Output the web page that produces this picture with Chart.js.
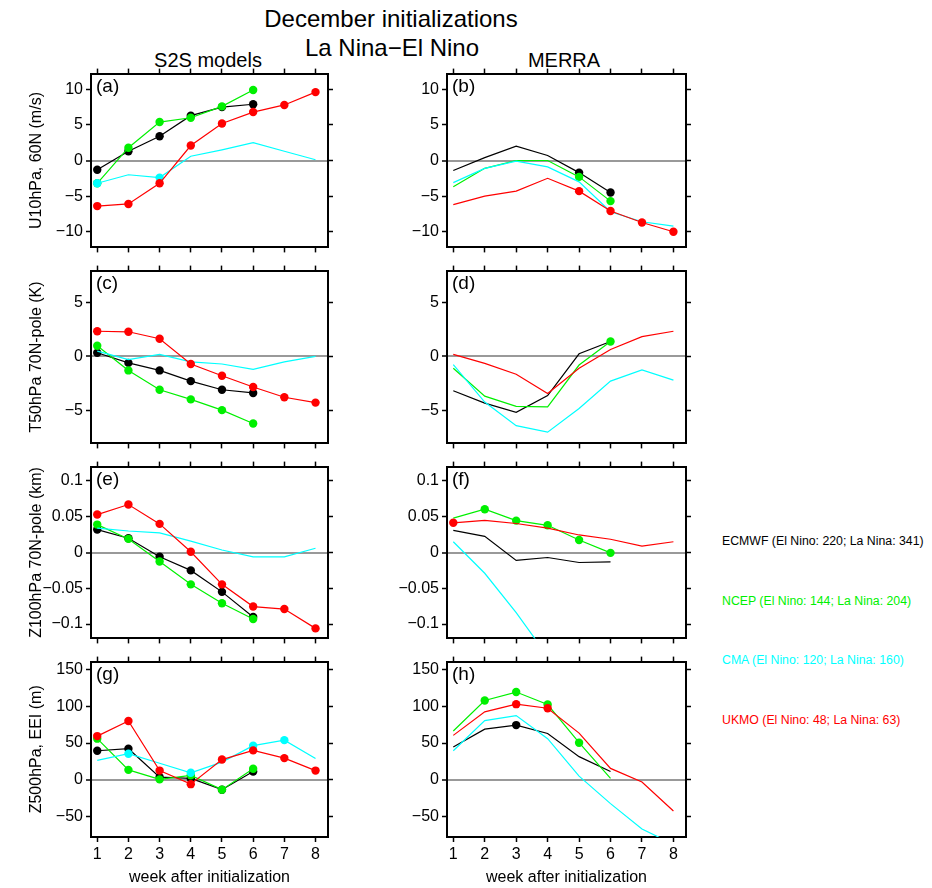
<!DOCTYPE html>
<html><head><meta charset="utf-8">
<script src="https://cdn.jsdelivr.net/npm/chart.js@4/dist/chart.umd.min.js"></script>
<style>
body{margin:0;background:#fff;width:932px;height:888px;position:relative;overflow:hidden;font-family:"Liberation Sans",Arial,Helvetica,sans-serif}
.t{position:absolute;white-space:nowrap;transform:translate(-50%,-50%);color:#000}
.l{position:absolute;white-space:nowrap;transform:translateY(-50%);font-size:12.3px}
.p{position:absolute;white-space:nowrap;transform:translateY(-50%);font-size:19px;color:#000;z-index:5}
canvas{position:absolute}
</style></head><body>
<div class="t" style="left:391px;top:19px;font-size:24px">December initializations</div>
<div class="t" style="left:392px;top:48px;font-size:24px">La Nina−El Nino</div>
<div class="t" style="left:208px;top:60px;font-size:20px">S2S models</div>
<div class="t" style="left:564px;top:60px;font-size:20px">MERRA</div>
<script>
// ---------------- data ----------------
const weeks = [1, 2, 3, 4, 5, 6, 7, 8];
const modelNames = ['ECMWF', 'NCEP', 'CMA', 'UKMO'];
const legendTexts = [
  'ECMWF (El Nino: 220; La Nina: 341)',
  'NCEP (El Nino: 144; La Nina: 204)',
  'CMA (El Nino: 120; La Nina: 160)',
  'UKMO (El Nino: 48; La Nina: 63)'
];
const panelLetters = ['(a)', '(b)', '(c)', '(d)', '(e)', '(f)', '(g)', '(h)'];
const yTitles = ['U10hPa, 60N (m/s)', 'T50hPa 70N-pole (K)', 'Z100hPa 70N-pole (km)', 'Z500hPa, EEI (m)'];
const xTitle = 'week after initialization';

const ticksU10 = [-10, -5, 0, 5, 10];
const ticksT50 = [-5, 0, 5];
const ticksZ100 = [-0.1, -0.05, 0, 0.05, 0.1];
const ticksZ500 = [-50, 0, 50, 100, 150];

// (a) U10hPa S2S
const a_ECMWF = [-1.3, 1.3, 3.4, 6.3, 7.5, 7.9];
const a_NCEP  = [-3.2, 1.8, 5.4, 6.0, 7.6, 9.9];
const a_CMA   = [-3.2, -2.0, -2.4, 0.6, 1.5, 2.5, 1.3, 0.1];
const a_UKMO  = [-6.4, -6.1, -3.2, 2.1, 5.2, 6.8, 7.8, 9.6];
const a_sigECMWF = [1, 2, 3, 4, 5, 6];
const a_sigNCEP  = [1, 2, 3, 4, 5, 6];
const a_sigCMA   = [1, 3];
const a_sigUKMO  = [1, 2, 3, 4, 5, 6, 7, 8];

// (b) U10hPa MERRA
const b_ECMWF = [-1.4, 0.4, 2.0, 0.7, -1.7, -4.5];
const b_NCEP  = [-3.7, -1.1, 0.0, 0.0, -2.3, -5.7];
const b_CMA   = [-3.1, -1.1, -0.1, -0.9, -3.0, -7.2, -8.6, -9.2];
const b_UKMO  = [-6.2, -5.0, -4.3, -2.5, -4.3, -7.1, -8.7, -10.0];
const b_sigECMWF = [5, 6];
const b_sigNCEP  = [5, 6];
const b_sigCMA   = [];
const b_sigUKMO  = [5, 6, 7, 8];

// (c) T50hPa S2S
const c_ECMWF = [0.35, -0.6, -1.3, -2.3, -3.1, -3.4];
const c_NCEP  = [1.0, -1.3, -3.1, -4.0, -5.0, -6.25];
const c_CMA   = [0.5, -0.3, 0.2, -0.5, -0.7, -1.2, -0.5, 0.0];
const c_UKMO  = [2.35, 2.3, 1.65, -0.7, -1.8, -2.85, -3.8, -4.3];
const c_sigECMWF = [1, 2, 3, 4, 5, 6];
const c_sigNCEP  = [1, 2, 3, 4, 5, 6];
const c_sigCMA   = [];
const c_sigUKMO  = [1, 2, 3, 4, 5, 6, 7, 8];

// (d) T50hPa MERRA
const d_ECMWF = [-3.2, -4.35, -5.2, -3.65, 0.25, 1.4];
const d_NCEP  = [-1.1, -3.7, -4.65, -4.7, -0.8, 1.4];
const d_CMA   = [-0.75, -4.25, -6.45, -7.05, -4.85, -2.3, -1.25, -2.2];
const d_UKMO  = [0.2, -0.65, -1.65, -3.45, -1.1, 0.65, 1.85, 2.35];
const d_sigECMWF = [];
const d_sigNCEP  = [6];
const d_sigCMA   = [];
const d_sigUKMO  = [];

// (e) Z100hPa S2S
const e_ECMWF = [0.032, 0.020, -0.006, -0.025, -0.055, -0.090];
const e_NCEP  = [0.039, 0.019, -0.0125, -0.0445, -0.071, -0.093];
const e_CMA   = [0.034, 0.030, 0.0275, 0.016, 0.0035, -0.006, -0.006, 0.006];
const e_UKMO  = [0.053, 0.067, 0.040, 0.001, -0.0445, -0.0755, -0.079, -0.106];
const e_sigECMWF = [1, 2, 3, 4, 5, 6];
const e_sigNCEP  = [1, 2, 3, 4, 5, 6];
const e_sigCMA   = [];
const e_sigUKMO  = [1, 2, 3, 4, 5, 6, 7, 8];

// (f) Z100hPa MERRA
const f_ECMWF = [0.031, 0.0225, -0.011, -0.007, -0.014, -0.013];
const f_NCEP  = [0.048, 0.0605, 0.0445, 0.038, 0.0175, -0.0005];
const f_CMA   = [0.015, -0.029, -0.084, -0.145];
const f_UKMO  = [0.0415, 0.045, 0.0405, 0.034, 0.0245, 0.0185, 0.009, 0.015];
const f_sigECMWF = [];
const f_sigNCEP  = [2, 3, 4, 5, 6];
const f_sigCMA   = [];
const f_sigUKMO  = [1];

// (g) Z500hPa S2S
const g_ECMWF = [39.5, 42.3, 3.6, 1.8, -13.5, 11.3];
const g_NCEP  = [56, 13.5, 0.5, 6, -13.5, 15];
const g_CMA   = [26.5, 35.5, 22.5, 9.5, 24, 46.5, 54, 29];
const g_UKMO  = [59.5, 80, 12.5, -6, 27.5, 40, 29.5, 12.5];
const g_sigECMWF = [1, 2, 3, 4, 5, 6];
const g_sigNCEP  = [1, 2, 3, 4, 5, 6];
const g_sigCMA   = [2, 4, 6, 7];
const g_sigUKMO  = [1, 2, 3, 4, 5, 6, 7, 8];

// (h) Z500hPa MERRA
const h_ECMWF = [44.5, 69, 74.5, 63, 31.5, 11.3];
const h_NCEP  = [66.5, 108, 119.5, 102.5, 50.5, 2];
const h_CMA   = [39.5, 80.5, 87.5, 56, 5, -32.5, -67, -88];
const h_UKMO  = [60.5, 92.5, 103, 97.5, 63.5, 15.5, -3, -42.5];
const h_sigECMWF = [3];
const h_sigNCEP  = [2, 3, 4, 5];
const h_sigCMA   = [];
const h_sigUKMO  = [3, 4];

// ---------------- layout / style ----------------
const COLORS = {ECMWF: '#000000', NCEP: '#00f000', CMA: '#00ffff', UKMO: '#ff0000'};
const FONT = '"Liberation Sans", Arial, Helvetica, sans-serif';
const colGeom = [{left: 0, width: 340, yl: 91, yr: 12}, {left: 360, width: 340, yl: 87, yr: 14}];
const rowTop = [71, 268, 464, 659];
const rowBottom = [250, 446, 641, 837];
const yRanges = [[-12.2, 12.2], [-8.1, 8.0], [-0.12, 0.12], [-78, 161]];
const yTickSets = [ticksU10, ticksT50, ticksZ100, ticksZ500];

const panels = [
  {s: [a_ECMWF, a_NCEP, a_CMA, a_UKMO], g: [a_sigECMWF, a_sigNCEP, a_sigCMA, a_sigUKMO]},
  {s: [b_ECMWF, b_NCEP, b_CMA, b_UKMO], g: [b_sigECMWF, b_sigNCEP, b_sigCMA, b_sigUKMO]},
  {s: [c_ECMWF, c_NCEP, c_CMA, c_UKMO], g: [c_sigECMWF, c_sigNCEP, c_sigCMA, c_sigUKMO]},
  {s: [d_ECMWF, d_NCEP, d_CMA, d_UKMO], g: [d_sigECMWF, d_sigNCEP, d_sigCMA, d_sigUKMO]},
  {s: [e_ECMWF, e_NCEP, e_CMA, e_UKMO], g: [e_sigECMWF, e_sigNCEP, e_sigCMA, e_sigUKMO]},
  {s: [f_ECMWF, f_NCEP, f_CMA, f_UKMO], g: [f_sigECMWF, f_sigNCEP, f_sigCMA, f_sigUKMO]},
  {s: [g_ECMWF, g_NCEP, g_CMA, g_UKMO], g: [g_sigECMWF, g_sigNCEP, g_sigCMA, g_sigUKMO]},
  {s: [h_ECMWF, h_NCEP, h_CMA, h_UKMO], g: [h_sigECMWF, h_sigNCEP, h_sigCMA, h_sigUKMO]}
];

function fmt(v) { return v === 0 ? '0' : String(v).replace('-', '\u2212'); }
function fixW(w) { return s => { s.width = w; }; }
function fixH(h) { return s => { s.height = h; }; }

const whiteArea = {
  id: 'whiteArea',
  beforeDraw(chart) {
    const a = chart.chartArea, c = chart.ctx;
    c.save(); c.fillStyle = '#fff'; c.fillRect(a.left, a.top, a.right - a.left, a.bottom - a.top); c.restore();
  }
};

panels.forEach((p, idx) => {
  const col = idx % 2, row = Math.floor(idx / 2);
  const cg = colGeom[col];
  const top = rowTop[row] - 10;
  const bottomExtra = row === 3 ? 50 : 10;
  const height = rowBottom[row] + bottomExtra - top;
  const cv = document.createElement('canvas');
  cv.width = cg.width; cv.height = height;
  cv.style.left = cg.left + 'px'; cv.style.top = top + 'px';
  cv.style.width = cg.width + 'px'; cv.style.height = height + 'px';
  document.body.appendChild(cv);

  const lab = document.createElement('div');
  lab.className = 'p';
  lab.textContent = panelLetters[idx];
  lab.style.left = (cg.left + cg.yl + 5) + 'px';
  lab.style.top = (rowTop[row] + 15) + 'px';
  document.body.appendChild(lab);

  const yr = yRanges[row], yt = yTickSets[row];
  // drawing order: first dataset on top -> UKMO, CMA, NCEP, ECMWF
  const order = [3, 2, 1, 0];
  const datasets = order.map(k => {
    const vals = p.s[k], sig = p.g[k], name = modelNames[k];
    return {
      label: name,
      data: vals.map((v, i) => ({x: weeks[i], y: v})),
      borderColor: COLORS[name],
      backgroundColor: COLORS[name],
      borderWidth: 1.2,
      pointRadius: vals.map((v, i) => sig.includes(weeks[i]) ? 4.2 : 0),
      pointBorderWidth: 0,
      pointBackgroundColor: COLORS[name],
      pointHoverRadius: 0,
      tension: 0,
      clip: 0
    };
  });

  const tickFont = {family: FONT, size: 16};
  const borderOpt = {display: true, color: '#000', width: 2};
  new Chart(cv.getContext('2d'), {
    type: 'line',
    data: {datasets},
    plugins: [whiteArea],
    options: {
      responsive: false, animation: false, devicePixelRatio: 1,
      layout: {padding: 0},
      plugins: {legend: {display: false}, tooltip: {enabled: false}},
      scales: {
        x: {
          type: 'linear', position: 'bottom', min: 0.8, max: 8.4,
          afterBuildTicks: s => { s.ticks = weeks.map(v => ({value: v})); },
          afterFit: fixH(bottomExtra),
          grid: {drawOnChartArea: false, drawTicks: true, tickLength: 5, tickColor: '#000', tickWidth: 1.5},
          border: borderOpt,
          ticks: {display: row === 3, font: tickFont, color: '#000', padding: 3, maxRotation: 0, callback: v => String(v)},
          title: {display: row === 3, text: xTitle, font: {family: FONT, size: 16}, color: '#000', padding: {top: 0, bottom: 0}}
        },
        xTop: {
          type: 'linear', position: 'top', min: 0.8, max: 8.4,
          afterBuildTicks: s => { s.ticks = weeks.map(v => ({value: v})); },
          afterFit: fixH(10),
          grid: {drawOnChartArea: false, drawTicks: true, tickLength: 5, tickColor: '#000', tickWidth: 1.5},
          border: borderOpt,
          ticks: {display: false}
        },
        y: {
          type: 'linear', position: 'left', min: yr[0], max: yr[1],
          afterBuildTicks: s => { s.ticks = yt.map(v => ({value: v})); },
          afterFit: fixW(cg.yl),
          grid: {
            drawOnChartArea: true, drawTicks: true, tickLength: 5, tickColor: '#000', tickWidth: 1.5,
            color: c => (c.tick && c.tick.value === 0) ? '#999999' : 'rgba(0,0,0,0)',
            lineWidth: c => (c.tick && c.tick.value === 0) ? 2 : 1
          },
          border: borderOpt,
          ticks: {font: tickFont, color: '#000', padding: 3, callback: v => fmt(v)},
          title: {display: col === 0, text: yTitles[row], font: {family: FONT, size: 16}, color: '#000', padding: {top: 27, bottom: 0}}
        },
        yRight: {
          type: 'linear', position: 'right', min: yr[0], max: yr[1],
          afterBuildTicks: s => { s.ticks = yt.map(v => ({value: v})); },
          afterFit: fixW(cg.yr),
          grid: {drawOnChartArea: false, drawTicks: true, tickLength: 5, tickColor: '#000', tickWidth: 1.5},
          border: borderOpt,
          ticks: {display: false}
        }
      }
    }
  });
});

const legendY = [541, 601, 660, 720];
legendTexts.forEach((t, i) => {
  const d = document.createElement('div');
  d.className = 'l';
  d.textContent = t;
  d.style.left = '722px';
  d.style.top = legendY[i] + 'px';
  d.style.color = COLORS[modelNames[i]];
  document.body.appendChild(d);
});
</script>
</body></html>
